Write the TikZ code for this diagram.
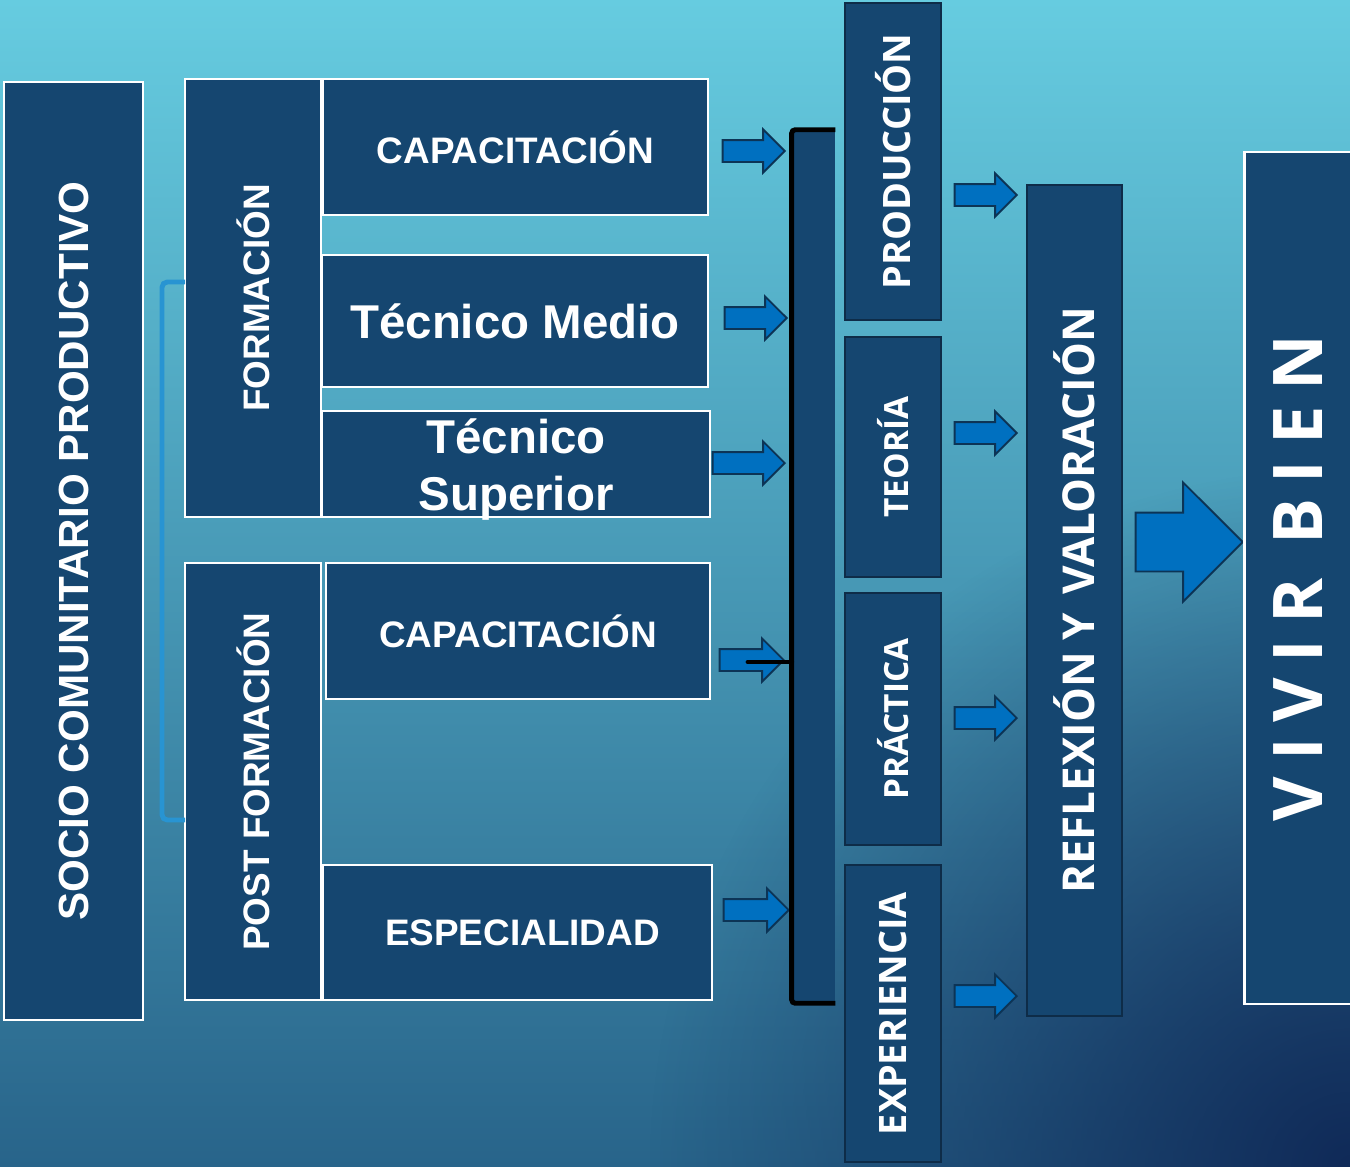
\documentclass[tikz,border=0pt]{standalone}
\usepackage{fontspec}
\setmainfont{Liberation Sans}
\newfontfamily\gillsans{Open Sans}
\usetikzlibrary{shapes.arrows,fadings}

\definecolor{boxblue}{RGB}{21,70,112}
\definecolor{arrblue}{RGB}{0,112,192}
\definecolor{arredge}{RGB}{12,52,86}
\definecolor{coledge}{RGB}{14,44,72}
\definecolor{brkblue}{RGB}{40,148,210}
\definecolor{bgtop}{RGB}{102,204,224}
\definecolor{bgmid}{RGB}{78,176,205}
\definecolor{bgbot}{RGB}{40,100,138}
\definecolor{bgcorner}{RGB}{16,42,88}

\tikzfading[name=cornerfade, inner color=transparent!0, outer color=transparent!100]

\tikzset{
  box/.style={draw=white, line width=1.4pt, fill=boxblue, text=white,
    inner sep=0pt, align=center, font=\bfseries\fontsize{21}{25}\selectfont},
  colbox/.style={box, draw=coledge, line width=1.1pt,
    font=\gillsans\bfseries\fontsize{21.5}{25}\selectfont},
  smallarr/.style={single arrow, draw=arredge, fill=arrblue, line width=1.1pt,
    inner xsep=0pt, inner ysep=0.2cm, minimum height=1.24cm,
    single arrow head extend=0.21cm, anchor=tip},
  bigarr/.style={smallarr, inner ysep=0.57cm, minimum height=2.14cm,
    single arrow head extend=0.6cm},
  brk/.style={line width=2.8pt, black, rounded corners=2pt},
  lbrk/.style={line width=2.8pt, brkblue, rounded corners=3pt}
}

\begin{document}
\begin{tikzpicture}[x=0.02cm, y=-0.02cm]
    \useasboundingbox (0,0) rectangle (1350,1167);
    % fondo
    \shade[top color=bgtop, middle color=bgmid, bottom color=bgbot]
      (0,0) rectangle (1350,1167);
    \begin{scope}
      \clip (0,0) rectangle (1350,1167);
      \fill[bgcorner, path fading=cornerfade] (1350,1167) circle (700);
    \end{scope}

    % columna izquierda
    \node[box, rotate=90, minimum width=18.76cm, minimum height=2.78cm,
          font=\bfseries\fontsize{24}{28}\selectfont]
         (socio) at (73.5,551) {SOCIO COMUNITARIO PRODUCTIVO};
    \node[box, rotate=90, minimum width=8.76cm, minimum height=2.72cm]
         (form) at (253,298) {FORMACIÓN};
    \node[box, rotate=90, minimum width=8.74cm, minimum height=2.72cm]
         (post) at (253,781.5) {POST FORMACIÓN};

    % niveles
    \node[box, minimum width=7.7cm, minimum height=2.72cm]
         (cap1) at (515.5,147) {CAPACITACIÓN};
    \node[box, minimum width=7.72cm, minimum height=2.64cm,
          font=\bfseries\fontsize{27}{32}\selectfont]
         (tmed) at (515,321) {Técnico Medio};
    \node[box, minimum width=7.76cm, minimum height=2.12cm,
          label={[yshift=-0.11cm, text=white, align=center,
                  font=\bfseries\fontsize{27}{32}\selectfont]center:Técnico\\Superior}]
         (tsup) at (516,464) {};
    \node[box, minimum width=7.68cm, minimum height=2.72cm]
         (cap2) at (518,631) {CAPACITACIÓN};
    \node[box, minimum width=7.78cm, minimum height=2.7cm]
         (espe) at (517.5,932.5) {\hspace{0.2cm}ESPECIALIDAD};

    % llave azul
    \draw[lbrk] (185,282) -- (162,282) -- (162,820) -- (185,820);

    % flechas hacia la barra
    \node[smallarr] (a1) at (786,151) {};
    \node[smallarr] (a2) at (788,318) {};
    \node[smallarr, minimum height=1.44cm] (a3) at (786,463) {};
    \node[smallarr, minimum height=1.28cm] (a4) at (785,660) {};
    \node[smallarr, minimum height=1.3cm] (a5) at (790,910) {};

    % barra
    \node[fill=boxblue, inner sep=0pt, minimum width=0.86cm, minimum height=17.46cm]
         (bar) at (813.5,566.5) {};
    \draw[brk] (bar.north east) -- (bar.north west) -- (bar.south west) -- (bar.south east);
    \coordinate (tie) at (748,662);
    \draw[brk, line cap=round] (tie) -- (tie -| bar.west);

    % columna de momentos
    \node[colbox, rotate=90, minimum width=6.34cm, minimum height=1.92cm]
         (prod) at (893,161.5) {PRODUCCIÓN};
    \node[colbox, rotate=90, minimum width=4.8cm, minimum height=1.92cm,
          font=\gillsans\bfseries\fontsize{19}{22}\selectfont]
         (teor) at (893,457) {TEORÍA};
    \node[colbox, rotate=90, minimum width=5.04cm, minimum height=1.92cm,
          font=\gillsans\bfseries\fontsize{19}{22}\selectfont]
         (prac) at (893,719) {PRÁCTICA};
    \node[colbox, rotate=90, minimum width=5.94cm, minimum height=1.92cm]
         (expe) at (893,1013.5) {EXPERIENCIA};

    \node[smallarr] (b1) at (1018,195) {};
    \node[smallarr] (b2) at (1018,433) {};
    \node[smallarr] (b3) at (1018,718) {};
    \node[smallarr] (b4) at (1018,996) {};

    \node[colbox, rotate=90, minimum width=16.62cm, minimum height=1.9cm,
          font=\gillsans\bfseries\fontsize{25}{28}\selectfont]
         (refl) at (1074.5,600.5) {REFLEXIÓN Y\, VALORACIÓN};

    % salida
    \node[bigarr] (big) at (1244,542) {};
    \node[box, rotate=90, minimum width=17.04cm, minimum height=2.14cm,
          font=\gillsans\bfseries\fontsize{39}{44}\selectfont\addfontfeature{LetterSpace=23}]
         (vivir) at (1298,578) {VIVIR BIEN};
\end{tikzpicture}
\end{document}
